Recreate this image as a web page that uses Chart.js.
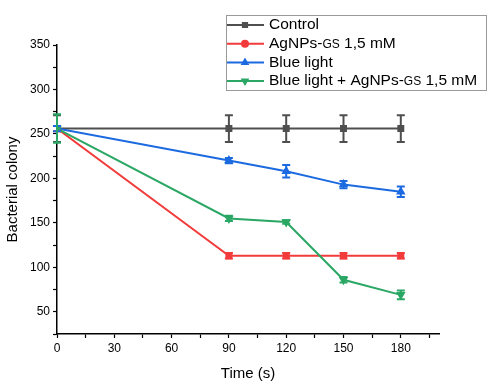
<!DOCTYPE html>
<html>
<head>
<meta charset="utf-8">
<script src="https://cdn.jsdelivr.net/npm/chart.js@4"></script>
<style>
  html, body { margin: 0; padding: 0; background: #fff; }
  #wrap { width: 495px; height: 387px; }
</style>
</head>
<body>
<div id="wrap"><canvas id="myChart" width="495" height="387"></canvas></div>
<script>
// time points (s)
var times = [0, 90, 120, 150, 180];

var labels = ['Control', 'AgNPs-GS 1,5 mM', 'Blue light', 'Blue light + AgNPs-GS 1,5 mM'];

var control    = [256, 256, 256, 256, 256];
var controlErr = [15, 15, 15, 15, 15];
var agnps      = [256, 113, 113, 113, 113];
var agnpsErr   = [3, 3, 3, 3, 3];
var blue       = [256, 220, 208, 193, 185];
var blueErr    = [3, 3, 7, 4, 6];
var blueAg     = [256, 155, 151, 86, 69];
var blueAgErr  = [16, 3, 2, 3, 5];

var xTicks = [0, 15, 30, 45, 60, 75, 90, 105, 120, 135, 150, 165, 180, 195];
var yTicks = [25, 50, 75, 100, 125, 150, 175, 200, 225, 250, 275, 300, 325, 350];

function pts(vals) {
  return vals.map(function (v, i) { return { x: times[i], y: v }; });
}

var FONT = '"Liberation Sans", Arial, sans-serif';

// vertical error bars with caps
var errorBars = {
  id: 'errorBars',
  afterDatasetsDraw: function (chart) {
    var ctx = chart.ctx;
    var xs = chart.scales.x, ys = chart.scales.y;
    // draw in the same order as the lines (higher order first)
    var idx = chart.data.datasets.map(function (d, i) { return i; });
    idx.sort(function (a, b) { return chart.data.datasets[b].order - chart.data.datasets[a].order; });
    idx.forEach(function (i) {
      var ds = chart.data.datasets[i];
      ctx.save();
      ctx.strokeStyle = ds.borderColor;
      ctx.lineWidth = 2;
      ds.data.forEach(function (p, j) {
        var e = ds.errors[j];
        var px = xs.getPixelForValue(p.x);
        var top = ys.getPixelForValue(p.y + e);
        var bot = ys.getPixelForValue(p.y - e);
        ctx.beginPath();
        ctx.moveTo(px, top); ctx.lineTo(px, bot);
        ctx.moveTo(px - 4, top); ctx.lineTo(px + 4, top);
        ctx.moveTo(px - 4, bot); ctx.lineTo(px + 4, bot);
        ctx.stroke();
      });
      ctx.restore();
    });
  }
};

// boxed legend in the upper right, "GS" set in a smaller size
var boxLegend = {
  id: 'boxLegend',
  afterDraw: function (chart) {
    var ctx = chart.ctx;
    var x0 = 226, y0 = 15, w = 260, h = 75;
    ctx.save();
    ctx.fillStyle = '#fff';
    ctx.fillRect(x0, y0, w, h);
    ctx.strokeStyle = '#9a9a9a';
    ctx.lineWidth = 1;
    ctx.strokeRect(x0 + 0.5, y0 + 0.5, w, h);
    chart.data.datasets.forEach(function (ds, i) {
      var cy = 25 + i * 18.7;
      ctx.strokeStyle = ds.borderColor;
      ctx.lineWidth = 2;
      ctx.beginPath();
      ctx.moveTo(227, cy); ctx.lineTo(264, cy);
      ctx.stroke();
      ctx.fillStyle = ds.borderColor;
      Chart.helpers.drawPoint(ctx, {
        pointStyle: ds.legendStyle || ds.pointStyle, radius: 3, rotation: ds.pointRotation || 0, borderWidth: 1
      }, 245, cy);
      ctx.fillStyle = '#000';
      ctx.textBaseline = 'middle';
      var parts = ds.label.split('GS');
      var tx = 269;
      parts.forEach(function (part, k) {
        ctx.font = '15.5px ' + FONT;
        ctx.fillText(part, tx, cy);
        tx += ctx.measureText(part).width;
        if (k < parts.length - 1) {
          ctx.font = '12px ' + FONT;
          ctx.fillText('GS', tx, cy + 1);
          tx += ctx.measureText('GS').width;
        }
      });
    });
    ctx.restore();
  }
};

function makeSet(label, vals, errs, color, style, rot, order) {
  return {
    label: label,
    data: pts(vals),
    errors: errs,
    borderColor: color,
    backgroundColor: color,
    pointBackgroundColor: color,
    pointBorderColor: color,
    pointStyle: style,
    pointRotation: rot,
    pointRadius: 3.5,
    borderWidth: 2,
    tension: 0,
    order: order
  };
}

function init() {
  var ctx = document.getElementById('myChart').getContext('2d');
  var red = makeSet(labels[1], agnps, agnpsErr, '#f23b3b', 'rect', 0, 3);
  red.legendStyle = 'circle';
  var chart = new Chart(ctx, {
    type: 'line',
    data: {
      datasets: [
        makeSet(labels[0], control, controlErr, '#4f4f4f', 'rect', 0, 4),
        red,
        makeSet(labels[2], blue, blueErr, '#1c6ae0', 'triangle', 0, 2),
        makeSet(labels[3], blueAg, blueAgErr, '#2aa764', 'triangle', 180, 1)
      ]
    },
    options: {
      responsive: false,
      animation: false,
      layout: { padding: { top: 45, right: 56, left: 0, bottom: 0 } },
      plugins: { legend: { display: false }, tooltip: { enabled: false } },
      scales: {
        x: {
          type: 'linear',
          min: 0, max: 200,
          afterBuildTicks: function (s) { s.ticks = xTicks.map(function (v) { return { value: v }; }); },
          afterFit: function (s) { s.height = 53; },
          border: { color: '#000', width: 1.5 },
          grid: { drawOnChartArea: false, tickLength: 4, color: '#000', tickWidth: 1.2 },
          ticks: {
            autoSkip: false, maxRotation: 0, padding: 3, color: '#000',
            font: { family: FONT, size: 12 },
            callback: function (v) { return (v % 30 === 0 && v <= 180) ? v : ''; }
          },
          title: { display: true, text: 'Time (s)', color: '#000', font: { family: FONT, size: 15 }, padding: { top: 4 } }
        },
        y: {
          min: 25, max: 350,
          afterBuildTicks: function (s) { s.ticks = yTicks.map(function (v) { return { value: v }; }); },
          afterFit: function (s) { s.width = 57; },
          border: { color: '#000', width: 1.5 },
          grid: { drawOnChartArea: false, tickLength: 4, color: '#000', tickWidth: 1.2 },
          ticks: {
            autoSkip: false, padding: 3, color: '#000',
            font: { family: FONT, size: 12 },
            callback: function (v) { return (v % 50 === 0) ? v : ''; }
          },
          title: { display: true, text: 'Bacterial colony', color: '#000', font: { family: FONT, size: 15 }, padding: { bottom: 4 } }
        }
      }
    },
    plugins: [errorBars, boxLegend]
  });
}

init();
</script>
</body>
</html>
